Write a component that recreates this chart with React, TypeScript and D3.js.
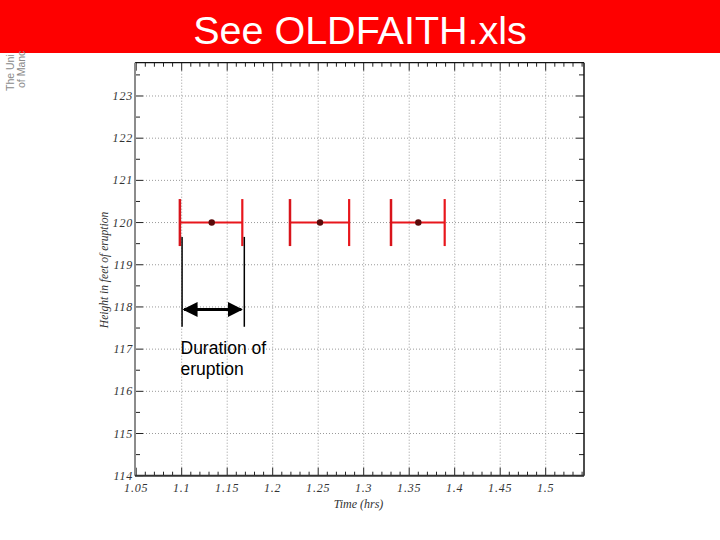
import React from "react";
import * as d3 from "d3";

const title = "See OLDFAITH.xls";
const xLabel = "Time (hrs)";
const yLabel = "Height in feet of eruption";
const xTickValues = [1.05, 1.1, 1.15, 1.2, 1.25, 1.3, 1.35, 1.4, 1.45, 1.5];
const xTickLabels = ["1.05", "1.1", "1.15", "1.2", "1.25", "1.3", "1.35", "1.4", "1.45", "1.5"];
const yTickValues = [114, 115, 116, 117, 118, 119, 120, 121, 122, 123];
const xCenters = [1.133, 1.252, 1.36];
const xLower = [1.098, 1.219, 1.33];
const xUpper = [1.1666, 1.284, 1.389];
const heights = [120, 120, 120];
const annotStart = 1.1004;
const annotEnd = 1.1688;
const annotText = ["Duration of", "eruption"];

export default function App() {
  const W = 720, H = 540;
  const left = 136.2, right = 584, top = 62.7, bottom = 475.7;
  const x = d3.scaleLinear().domain([1.05, 1.05 + (right - left) / 910]).range([left, right]);
  const y = d3.scaleLinear().domain([114, 114 + (bottom - top) / 42.19]).range([bottom, top]);
  const xMinor = d3.range(1.05, 1.541, 0.01).map((v) => +v.toFixed(3));
  const yMinor = d3.range(114, 123.81, 0.5);
  const serif = "'Liberation Serif', 'DejaVu Serif', serif";
  const sans = "'Liberation Sans', Arial, sans-serif";
  const isMajorX = (v: number) => Math.abs(Math.round(v * 20) - v * 20) < 1e-6;
  const isMajorY = (v: number) => Math.abs(Math.round(v) - v) < 1e-6;
  const axL = 135;
  return (
    <svg width={W} height={H} style={{ position: "absolute", left: 0, top: 0, background: "#fff" }}>
      <defs>
        <marker id="ah" viewBox="0 0 10 10" refX="9" refY="5" markerWidth="5" markerHeight="5" orient="auto-start-reverse">
          <path d="M0,0 L10,5 L0,10 z" fill="#000" />
        </marker>
      </defs>
      <rect x={0} y={0} width={W} height={53} fill="#fe0000" />
      <text x={360} y={44} textAnchor="middle" fill="#fff" fontFamily={sans} fontSize={39.5}>{title}</text>
      <g fill="#8a8a8a" fontFamily={sans} fontSize={10.5}>
        <text transform="translate(14,91) rotate(-90)">The Uni</text>
        <text transform="translate(25,88) rotate(-90)">of Manc</text>
      </g>
      {/* grid */}
      <g stroke="#9a9a9a" strokeWidth={1} strokeDasharray="1,2">
        {xTickValues.slice(1).map((v) => (
          <line key={"gx" + v} x1={x(v)} x2={x(v)} y1={top + 8} y2={bottom - 8} />
        ))}
        {yTickValues.slice(1).map((v) => (
          <line key={"gy" + v} x1={axL + 8} x2={right - 8} y1={y(v)} y2={y(v)} />
        ))}
      </g>
      {/* ticks bottom/top */}
      <g stroke="#222" strokeWidth={1}>
        {xMinor.map((v) => {
          const L = isMajorX(v) ? 8 : 4;
          return (
            <g key={"xt" + v}>
              <line x1={x(v)} x2={x(v)} y1={bottom} y2={bottom - L} />
              <line x1={x(v)} x2={x(v)} y1={top} y2={top + L} />
            </g>
          );
        })}
        {yMinor.map((v) => {
          const L = isMajorY(v) ? 8 : 5;
          return (
            <g key={"yt" + v}>
              <line x1={axL} x2={axL + L} y1={y(v)} y2={y(v)} />
              <line x1={right} x2={right - L} y1={y(v)} y2={y(v)} />
            </g>
          );
        })}
      </g>
      {/* frame */}
      <line x1={axL} x2={right} y1={top} y2={top} stroke="#111" strokeWidth={1.2} />
      <line x1={right} x2={right} y1={top} y2={bottom} stroke="#111" strokeWidth={1.5} />
      <line x1={axL} x2={axL} y1={top} y2={bottom} stroke="#8c8c8c" strokeWidth={2} />
      <line x1={axL} x2={right} y1={bottom} y2={bottom} stroke="#333" strokeWidth={2} />
      {/* tick labels */}
      <g fontFamily={serif} fontStyle="italic" fontSize={12} fill="#333" letterSpacing={0.8}>
        {xTickValues.map((v, i) => (
          <text key={"xl" + v} x={x(v)} y={492} textAnchor="middle">{xTickLabels[i]}</text>
        ))}
        {yTickValues.map((v) => (
          <text key={"yl" + v} x={133} y={y(v) + 4} textAnchor="end">{v}</text>
        ))}
      </g>
      <text x={358.5} y={508} textAnchor="middle" fontFamily={serif} fontStyle="italic" fontSize={12} fill="#333">{xLabel}</text>
      <text transform="translate(108,270) rotate(-90)" textAnchor="middle" fontFamily={serif} fontStyle="italic" fontSize={11.5} fill="#333">{yLabel}</text>
      {/* error bars */}
      {xCenters.map((c, i) => (
        <g key={"eb" + i}>
          <line x1={x(xLower[i])} x2={x(xUpper[i])} y1={y(heights[i])} y2={y(heights[i])} stroke="#e8161c" strokeWidth={2} />
          <line x1={x(xLower[i])} x2={x(xLower[i])} y1={y(heights[i]) - 23.5} y2={y(heights[i]) + 23.5} stroke="#d8141b" strokeWidth={2.5} />
          <line x1={x(xUpper[i])} x2={x(xUpper[i])} y1={y(heights[i]) - 23.5} y2={y(heights[i]) + 23.5} stroke="#e8161c" strokeWidth={2.2} />
          <circle cx={x(c)} cy={y(heights[i])} r={3.2} fill="#5a0a0a" />
        </g>
      ))}
      {/* annotation */}
      <g stroke="#000" strokeWidth={1.5}>
        <line x1={x(annotStart)} x2={x(annotStart)} y1={y(119.66)} y2={y(117.53)} />
        <line x1={x(annotEnd)} x2={x(annotEnd)} y1={y(119.66)} y2={y(117.53)} />
        <line x1={x(annotStart) + 2} x2={x(annotEnd) - 3} y1={y(117.94)} y2={y(117.94)} strokeWidth={3} markerStart="url(#ah)" markerEnd="url(#ah)" />
      </g>
      <g fontFamily={sans} fontSize={17.5} fill="#000">
        <text x={180.5} y={354}>{annotText[0]}</text>
        <text x={180.5} y={375}>{annotText[1]}</text>
      </g>
    </svg>
  );
}
